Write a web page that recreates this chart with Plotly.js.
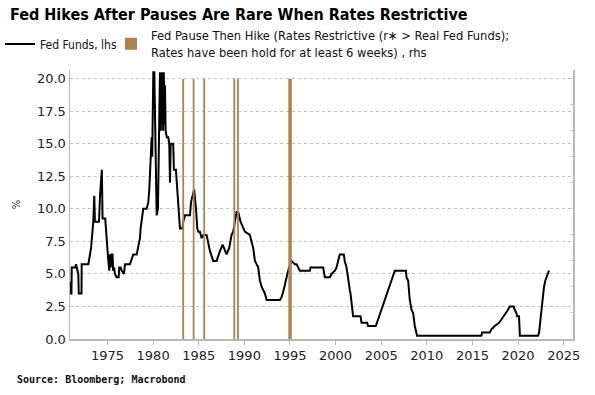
<!DOCTYPE html>
<html>
<head>
<meta charset="utf-8">
<script src="https://cdn.plot.ly/plotly-3.0.1.min.js"></script>
<style>
  html, body { margin: 0; padding: 0; background: #ffffff; }
  #chart { width: 595px; height: 395px; }
</style>
</head>
<body>
<div id="chart"></div>
<script>
// Fed Funds rate (%), decimal year vs value, lhs
const fedYears = [
  1970.9, 1970.95, 1971.05, 1971.08, 1971.44, 1971.55, 1971.8, 1971.85, 1972.15, 1972.17,
  1972.9, 1973.2, 1973.44, 1973.55, 1973.62, 1974.07, 1974.18, 1974.3, 1974.38, 1974.46,
  1974.75, 1975.09, 1975.2, 1975.28, 1975.35, 1975.45, 1975.55, 1975.62, 1975.71, 1975.82,
  1976.0, 1976.22, 1976.29, 1976.44, 1976.55, 1976.8, 1976.92, 1977.46, 1977.65, 1977.83,
  1978.2, 1978.37, 1978.56, 1978.63, 1978.85, 1978.92, 1979.29, 1979.47, 1979.58, 1979.65,
  1979.73, 1979.84, 1979.9, 1980.02, 1980.13, 1980.2, 1980.39, 1980.53, 1980.75, 1980.85,
  1980.9, 1980.97, 1981.03, 1981.1, 1981.17, 1981.25, 1981.3, 1981.37, 1981.5, 1981.66,
  1981.77, 1981.85, 1981.92, 1982.2, 1982.28, 1982.5, 1982.75, 1982.86, 1982.94, 1983.23,
  1983.3, 1983.49, 1984.04, 1984.15, 1984.5, 1984.7, 1984.84, 1984.95, 1985.13, 1985.32,
  1985.5, 1985.86, 1986.04, 1986.23, 1986.59, 1986.96, 1987.32, 1987.62, 1988.05, 1988.34,
  1988.6, 1988.78, 1989.15, 1989.33, 1989.59, 1990.06, 1990.6, 1990.97, 1991.16, 1991.52,
  1991.7, 1991.9, 1992.25, 1992.44, 1993.9, 1994.1, 1994.3, 1994.45, 1994.63, 1994.91,
  1995.17, 1995.54, 1995.72, 1996.08, 1997.18, 1997.25, 1998.64, 1998.82, 1999.37, 1999.55,
  1999.92, 2000.1, 2000.28, 2000.46, 2000.9, 2001.0, 2001.2, 2001.37, 2001.56, 2001.63,
  2001.85, 2001.92, 2002.73, 2002.84, 2003.46, 2003.56, 2004.41, 2006.49, 2007.7, 2007.77,
  2007.95, 2008.13, 2008.32, 2008.5, 2008.68, 2008.93, 2015.98, 2016.05, 2016.9, 2017.08,
  2017.44, 2017.91, 2018.17, 2018.43, 2018.72, 2018.9, 2019.08, 2019.52, 2019.63, 2019.82,
  2019.89, 2020.1, 2020.2, 2022.19, 2022.3, 2022.37, 2022.48, 2022.62, 2022.73, 2022.84,
  2022.99, 2023.1, 2023.28, 2023.39
];
const fedValues = [
  4.4, 3.5, 3.5, 5.5, 5.5, 5.75, 5.0, 3.5, 3.5, 5.75,
  5.75, 7.0, 9.0, 11.0, 9.0, 9.0, 11.0, 13.0, 13.0, 9.25,
  9.25, 6.0, 5.25, 6.5, 5.5, 6.5, 6.5, 5.25, 5.5, 5.0,
  4.75, 4.75, 5.5, 5.5, 5.25, 5.0, 5.75, 5.75, 6.25, 6.5,
  6.5, 7.0, 7.75, 8.5, 9.5, 10.0, 10.0, 10.5, 11.5, 12.5,
  14.0, 15.5, 14.0, 20.5, 20.5, 17.0, 9.5, 10.0, 20.5, 16.0,
  20.5, 16.5, 20.5, 16.0, 20.5, 16.5, 19.5, 16.0, 15.5, 15.5,
  15.0, 12.0, 15.0, 15.0, 13.0, 13.0, 10.0, 9.0, 8.5, 8.5,
  9.0, 9.5, 9.5, 10.5, 11.5, 10.0, 8.5, 8.25, 8.25, 7.75,
  8.0, 8.0, 7.5, 6.75, 6.0, 6.0, 6.75, 7.25, 6.5, 7.0,
  8.0, 8.25, 9.75, 9.75, 9.0, 8.25, 8.0, 7.0, 6.0, 5.5,
  4.5, 4.0, 3.5, 3.0, 3.0, 3.25, 3.75, 4.25, 4.75, 5.5,
  6.0, 5.75, 5.75, 5.25, 5.25, 5.5, 5.5, 4.75, 4.75, 5.0,
  5.25, 5.5, 6.0, 6.5, 6.5, 6.0, 5.5, 4.5, 3.75, 3.5,
  2.0, 1.75, 1.75, 1.25, 1.25, 1.0, 1.0, 5.25, 5.25, 4.75,
  4.5, 3.0, 2.25, 2.0, 1.0, 0.25, 0.25, 0.5, 0.5, 0.75,
  1.0, 1.25, 1.5, 1.75, 2.0, 2.25, 2.5, 2.5, 2.25, 2.0,
  1.75, 1.75, 0.25, 0.25, 0.5, 1.0, 1.75, 2.5, 3.25, 4.0,
  4.5, 4.75, 5.0, 5.25
];

// Fed pause then hike flag (rhs), decimal year vs value
const pauseYears = [1983.3, 1984.44, 1985.6, 1988.9, 1989.3, 1994.92, 1995.1];
const pauseValues = [1, 1, 1, 1, 1, 1, 1];

// Axis ticks
const xTickVals = [1975, 1980, 1985, 1990, 1995, 2000, 2005, 2010, 2015, 2020, 2025];
const yTickVals = [0, 2.5, 5, 7.5, 10, 12.5, 15, 17.5, 20];
const yTickText = ['0.0', '2.5', '5.0', '7.5', '10.0', '12.5', '15.0', '17.5', '20.0'];

const legendFamily = "'DejaVu Sans Condensed', 'Liberation Sans Narrow', 'DejaVu Sans Mono', monospace";

const traces = [
  {
    type: 'scatter',
    mode: 'lines',
    name: 'Fed Funds, lhs',
    x: fedYears,
    y: fedValues,
    line: { color: '#000000', width: 2 },
    yaxis: 'y',
    legend: 'legend'
  },
  {
    type: 'bar',
    name: 'Fed Pause Then Hike (Rates Restrictive (r\u2217 > Real Fed Funds);<br>Rates have been hold for at least 6 weeks) , rhs',
    x: pauseYears,
    y: pauseValues,
    width: 0.2,
    marker: { color: '#ad8250', line: { width: 0 } },
    yaxis: 'y2',
    legend: 'legend2'
  }
];

const layout = {
  width: 595,
  height: 395,
  paper_bgcolor: '#ffffff',
  plot_bgcolor: '#ffffff',
  margin: { l: 70, r: 22, t: 70, b: 56 },
  showlegend: true,
  title: {
    text: '<b>Fed Hikes After Pauses Are Rare When Rates Restrictive</b>',
    font: { family: "'DejaVu Sans Condensed', 'DejaVu Sans', sans-serif", size: 16, color: '#000000' },
    x: 10 / 595, xanchor: 'left', xref: 'container',
    y: 1 - 14 / 395, yanchor: 'middle', yref: 'container'
  },
  legend: {
    orientation: 'h',
    xref: 'container', yref: 'container',
    x: 0, xanchor: 'left',
    y: 1 - 44 / 395, yanchor: 'middle',
    font: { family: legendFamily, size: 12, color: '#111111' },
    itemwidth: 30,
    bgcolor: 'rgba(0,0,0,0)',
    valign: 'middle'
  },
  legend2: {
    orientation: 'h',
    xref: 'container', yref: 'container',
    x: 111 / 595, xanchor: 'left',
    y: 1 - 44 / 395, yanchor: 'middle',
    font: { family: legendFamily, size: 12.8, color: '#111111' },
    itemwidth: 30,
    bgcolor: 'rgba(0,0,0,0)',
    valign: 'middle'
  },
  xaxis: {
    range: [1970.89, 2026.02],
    tickmode: 'array',
    tickvals: xTickVals,
    ticktext: xTickVals.map(String),
    ticks: 'outside',
    ticklen: 4,
    tickcolor: '#b8b8b8',
    showline: true,
    linecolor: '#b8b8b8',
    linewidth: 1.5,
    showgrid: false,
    zeroline: false,
    tickfont: { family: "'DejaVu Sans', sans-serif", size: 13, color: '#222222' }
  },
  yaxis: {
    range: [0, 20.67],
    tickmode: 'array',
    tickvals: yTickVals,
    ticktext: yTickText,
    ticks: '',
    showline: true,
    linecolor: '#b8b8b8',
    linewidth: 1.5,
    showgrid: true,
    gridcolor: '#c4c4c4',
    griddash: 'dot',
    gridwidth: 1,
    zeroline: false,
    tickfont: { family: "'DejaVu Sans', sans-serif", size: 13, color: '#222222' },
    title: { text: '%', font: { family: "'DejaVu Sans', sans-serif", size: 10, color: '#222222' }, standoff: 14 }
  },
  yaxis2: {
    overlaying: 'y',
    side: 'right',
    range: [0, 1.0335],
    dtick: 0.1,
    tick0: 0,
    ticks: 'inside',
    ticklen: 3,
    tickcolor: '#cccccc',
    showticklabels: false,
    showline: true,
    linecolor: '#b8b8b8',
    linewidth: 1.5,
    showgrid: false,
    zeroline: false
  },
  annotations: [
    {
      text: '<b>Source: Bloomberg; Macrobond</b>',
      xref: 'paper', yref: 'paper',
      x: (15 - 70) / 503, xanchor: 'left',
      y: (339 - 379) / 269, yanchor: 'middle',
      showarrow: false,
      font: { family: "'DejaVu Sans Mono', monospace", size: 10, color: '#111111' }
    }
  ]
};

Plotly.newPlot('chart', traces, layout, { displayModeBar: false, staticPlot: true });
</script>
</body>
</html>
